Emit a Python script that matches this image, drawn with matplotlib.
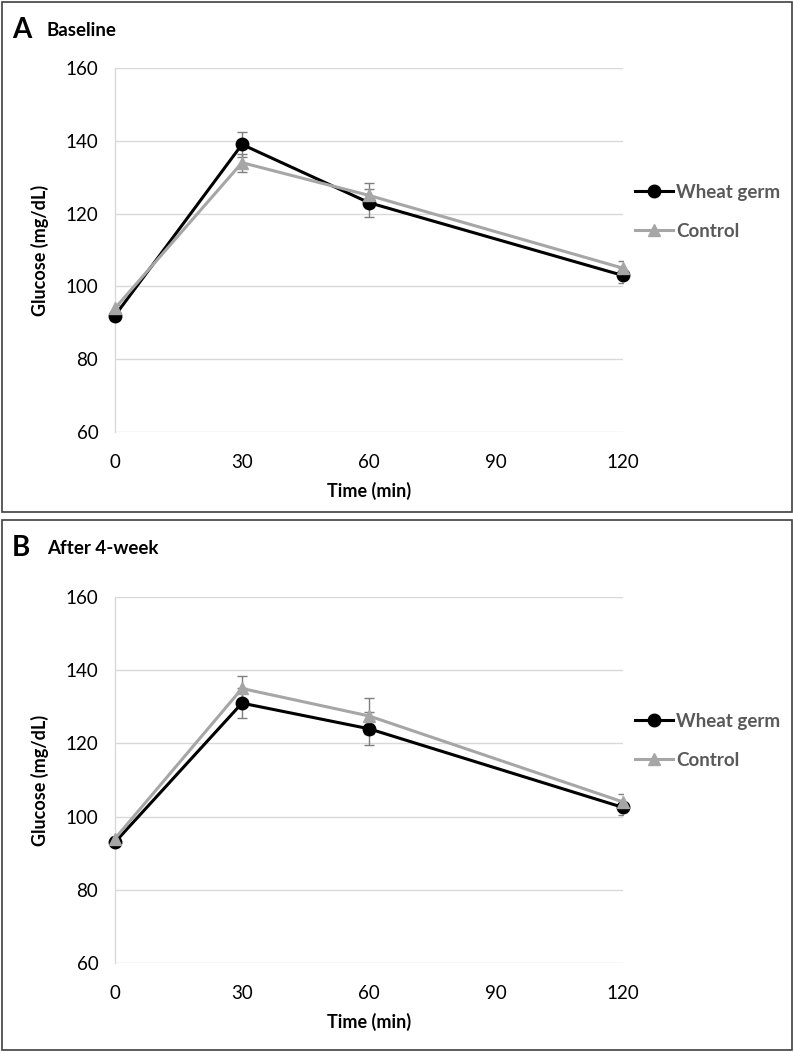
import matplotlib
matplotlib.use("Agg")
import matplotlib.pyplot as plt
from matplotlib.patches import Rectangle

plt.rcParams['font.family'] = ['Lato', 'DejaVu Sans']

time = [0, 30, 60, 120]
xticks = [0, 30, 60, 90, 120]
yticks = [60, 80, 100, 120, 140, 160]

wheat_A = [92, 139, 123, 103]
wheat_A_err = [1.0, 3.5, 3.8, 2.0]
control_A = [94, 134, 125, 105]
control_A_err = [1.0, 2.5, 3.3, 2.0]

wheat_B = [93, 131, 124, 102.5]
wheat_B_err = [1.0, 4.0, 4.5, 2.0]
control_B = [94, 135, 127.5, 104]
control_B_err = [1.0, 3.5, 4.8, 2.2]

W, H = 794, 1053
fig = plt.figure(figsize=(W/100, H/100), dpi=100)

def fx(px): return px / W
def fy(py): return 1 - py / H

# panel borders
for (top, bot) in [(2, 512), (520, 1050)]:
    fig.patches.append(Rectangle((fx(2), fy(bot)), fx(790), (bot - top) / H,
                                 transform=fig.transFigure, fill=False,
                                 edgecolor='#404040', linewidth=1.2))

panels = [
    ("A", "Baseline", 30, 68, 432, wheat_A, wheat_A_err, control_A, control_A_err, 192),
    ("B", "After 4-week", 548, 597, 963, wheat_B, wheat_B_err, control_B, control_B_err, 721),
]

for letter, title, ty, ytop, ybot, w, we, c, ce, legy in panels:
    ax = fig.add_axes([fx(115), fy(ybot), fx(623) - fx(115), (ybot - ytop) / H])
    ax.set_xlim(0, 120)
    ax.set_ylim(60, 160)
    ax.set_xticks(xticks)
    ax.set_yticks(yticks)
    ax.tick_params(length=0, labelsize=13.5, colors='black', pad=12)
    ax.tick_params(axis='x', pad=16)
    ax.grid(axis='y', color='#d9d9d9', linewidth=1.0)
    ax.set_axisbelow(True)
    for s in ['top', 'right', 'bottom']:
        ax.spines[s].set_visible(False)
    ax.spines['left'].set_color('#d9d9d9')
    ax.spines['left'].set_linewidth(1.0)

    ax.errorbar(time, w, yerr=we, fmt='none', ecolor='#7f7f7f', elinewidth=1.0,
                capsize=3.5, capthick=1.0, zorder=3)
    ax.errorbar(time, c, yerr=ce, fmt='none', ecolor='#7f7f7f', elinewidth=1.0,
                capsize=3.5, capthick=1.0, zorder=3)
    ax.plot(time, w, color='black', linewidth=2.2, marker='o', markersize=9,
            label='Wheat germ', zorder=4, clip_on=False)
    ax.plot(time, c, color='#a6a6a6', linewidth=2.2, marker='^', markersize=9,
            label='Control', zorder=5, clip_on=False)

    ax.set_xlabel('Time (min)', fontsize=13, fontweight='bold', labelpad=8)
    ax.set_ylabel('Glucose (mg/dL)', fontsize=13, fontweight='bold', labelpad=12)

    leg = ax.legend(loc='upper left', bbox_to_anchor=(fx(635), fy(legy - 8)),
                    bbox_transform=fig.transFigure, frameon=False,
                    fontsize=13.5, handlelength=2.0, handletextpad=0.2,
                    labelspacing=1.15, borderaxespad=0, borderpad=0)
    for t in leg.get_texts():
        t.set_color('#595959')
        t.set_fontweight('bold')

    fig.text(fx(12), fy(ty), letter, fontsize=20, fontweight='bold', va='center', ha='left')
    fig.text(fx(47), fy(ty), title, fontsize=13.5, fontweight='bold', va='center', ha='left')

fig.savefig('out.png', dpi=100)
